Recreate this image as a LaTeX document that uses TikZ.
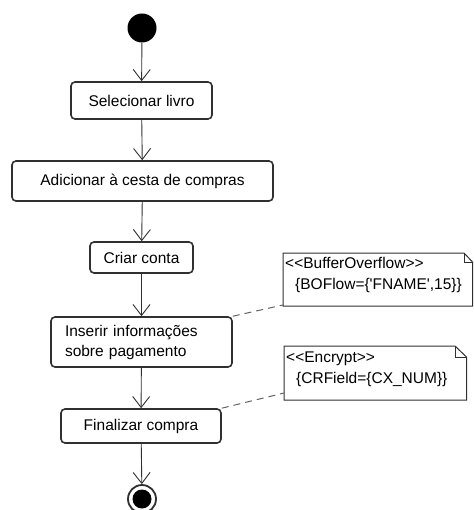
\documentclass[tikz,border=0pt]{standalone}
\usepackage{fontspec}
\setmainfont{Liberation Sans}
\newfontfamily\notefont{Liberation Sans}
\usetikzlibrary{arrows.meta}
\definecolor{ln}{HTML}{303030}
\begin{document}
\begin{tikzpicture}[x=1pt,y=-1pt,
  act/.style={draw=ln, line width=1.6pt, rounded corners=4pt, fill=white,
    font=\fontsize{15.5}{20}\selectfont, inner sep=0pt},
  flow/.style={draw=ln, line width=0.9pt,
    -{Straight Barb[length=11pt,width=17pt,line width=0.9pt]}},
  notelink/.style={draw=ln!75, line width=1pt, dash pattern=on 7pt off 5pt},
  noteline/.style={draw=ln, line width=1pt},
  notetext/.style={font=\notefont\fontsize{15.5}{21}\selectfont, inner sep=0pt, anchor=base west}]
\useasboundingbox (0,0) rectangle (473,510);

% start
\node[circle, fill=black, minimum size=29pt, inner sep=0pt] (start) at (142,28) {};
% activities
\node[act, minimum width=141pt, minimum height=37pt] (a1) at (141.5,100.5) {Selecionar livro};
\node[act, minimum width=261pt, minimum height=40pt] (a2) at (142.5,181) {Adicionar à cesta de compras};
\node[act, minimum width=181pt, minimum height=50pt, text width=153pt, align=left] (a4) at (141.5,342) {Inserir informações\\sobre pagamento};
\node[act, minimum width=103pt, minimum height=31pt] (a3) at (141.5,257.5) {Criar conta};
\node[act, minimum width=160pt, minimum height=34pt] (a5) at (141,426) {Finalizar compra};
% end
\node[circle, draw=ln, line width=1.8pt, minimum size=28pt, inner sep=0pt] (end) at (142,499) {};
\node[circle, fill=black, minimum size=19pt, inner sep=0pt] (endin) at (end.center) {};

% flows
\draw[flow] (start) -- (a1);
\draw[flow] (a1) -- (a2);
\draw[flow] (a2) -- (a3);
\draw[flow] (a3) -- (a4);
\draw[flow] (a4) -- (a5);
\draw[flow] (a5) -- (end);

% note 1
\coordinate (n1nw) at (283,253);
\coordinate (n1f) at (464,253);
\coordinate (n1fr) at (472.5,262);
\coordinate (n1se) at (472.5,306);
\coordinate (n1sw) at (283,306);
\draw[noteline] (n1nw) -- (n1f) -- (n1fr) -- (n1se) -- (n1sw) -- cycle;
\draw[noteline] (n1f) -- (n1f |- n1fr) -- (n1fr);
\node[notetext] (n1a) at (285,268.5) {<<BufferOverflow>>};
\node[notetext] (n1b) at (295,289.5) {\{BOFlow=\{'FNAME',15\}\}};

% note 2
\coordinate (n2nw) at (284,346);
\coordinate (n2f) at (455,346);
\coordinate (n2fr) at (466.5,357);
\coordinate (n2se) at (466.5,400);
\coordinate (n2sw) at (284,400);
\draw[noteline] (n2nw) -- (n2f) -- (n2fr) -- (n2se) -- (n2sw) -- cycle;
\draw[noteline] (n2f) -- (n2f |- n2fr) -- (n2fr);
\node[notetext] (n2a) at (286,362.5) {<<Encrypt>>};
\node[notetext] (n2b) at (296,383.5) {\{CRField=\{CX\_NUM\}\}};

% note links
\coordinate (l1) at (283,305);
\coordinate (l2) at (284,393);
\draw[notelink] (a4.north east) -- (l1);
\draw[notelink] (a5.north east) -- (l2);
\end{tikzpicture}
\end{document}
